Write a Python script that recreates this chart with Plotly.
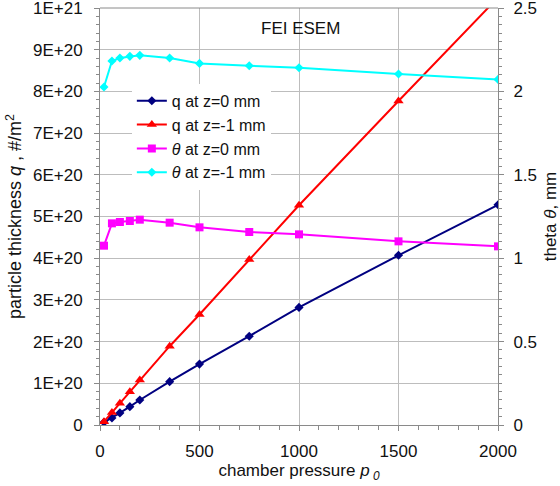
import plotly.graph_objects as go

# Chamber pressure values
pressure = [20, 60, 100, 150, 200, 350, 500, 750, 1000, 1500, 2000]

# Particle thickness q (#/m^2)
q_z0 = [0.065e20, 0.17e20, 0.29e20, 0.44e20, 0.60e20, 1.04e20, 1.46e20, 2.13e20, 2.82e20, 4.07e20, 5.28e20]
q_zm1 = [0.08e20, 0.30e20, 0.52e20, 0.80e20, 1.08e20, 1.89e20, 2.65e20, 3.97e20, 5.27e20, 7.77e20, 10.25e20]

# Theta (mm)
theta_z0 = [1.075, 1.209, 1.217, 1.223, 1.231, 1.213, 1.185, 1.157, 1.143, 1.101, 1.071]
theta_zm1 = [2.026, 2.182, 2.200, 2.210, 2.216, 2.200, 2.168, 2.154, 2.142, 2.104, 2.072]

# Left axis tick labels
q_tickvals = [0, 1e20, 2e20, 3e20, 4e20, 5e20, 6e20, 7e20, 8e20, 9e20, 1e21]
q_ticktext = ["0", "1E+20", "2E+20", "3E+20", "4E+20", "5E+20",
              "6E+20", "7E+20", "8E+20", "9E+20", "1E+21"]

FONT = "Liberation Sans, Arial, Helvetica, sans-serif"
GRID = "#bdbdbd"
AXIS = "#8a8a8a"

fig = go.Figure()

fig.add_trace(go.Scatter(
    x=pressure, y=q_z0, name="q at z=0 mm", mode="lines+markers",
    line=dict(color="#000080", width=2),
    marker=dict(symbol="diamond", size=7, color="#000080"),
))
fig.add_trace(go.Scatter(
    x=pressure, y=q_zm1, name="q at z=-1 mm", mode="lines+markers",
    line=dict(color="#ff0000", width=2),
    marker=dict(symbol="triangle-up", size=9, color="#ff0000"),
))
fig.add_trace(go.Scatter(
    x=pressure, y=theta_z0, name="<i>θ</i> at z=0 mm", mode="lines+markers",
    yaxis="y2",
    line=dict(color="#ff00ff", width=2),
    marker=dict(symbol="square", size=8, color="#ff00ff"),
))
fig.add_trace(go.Scatter(
    x=pressure, y=theta_zm1, name="<i>θ</i> at z=-1 mm", mode="lines+markers",
    yaxis="y2",
    line=dict(color="#00ffff", width=2),
    marker=dict(symbol="diamond", size=7, color="#00ffff"),
))

fig.add_annotation(
    text="FEI ESEM", xref="paper", yref="paper", x=0.505, y=0.952,
    xanchor="center", yanchor="middle",
    showarrow=False, font=dict(size=17, color="#111", family=FONT),
)

# Top border of the plotting area
fig.add_shape(type="line", xref="paper", yref="paper", x0=0, x1=1, y0=1, y1=1,
              line=dict(color=AXIS, width=1))

fig.update_layout(
    width=560, height=486,
    margin=dict(l=100, r=62, t=8, b=61, autoexpand=False),
    paper_bgcolor="white", plot_bgcolor="white",
    font=dict(family=FONT, size=17, color="#111"),
    showlegend=True,
    legend=dict(
        x=0.08, y=0.818, xanchor="left", yanchor="top",
        bgcolor="white", borderwidth=0,
        font=dict(size=16, family=FONT, color="#111"),
        tracegroupgap=0, itemwidth=30,
    ),
    xaxis=dict(
        range=[0, 2000], tickvals=[0, 500, 1000, 1500, 2000],
        showgrid=True, gridcolor=GRID, gridwidth=1,
        showline=True, linecolor=AXIS, linewidth=1,
        ticks="outside", ticklen=5, tickcolor=AXIS,
        minor=dict(ticks="outside", ticklen=4, dtick=100, tickcolor=AXIS, showgrid=False),
        zeroline=False, ticklabelstandoff=6, ticklabeloverflow="allow", automargin=False,
        title=dict(text="chamber pressure <i>p</i><sub><i> 0</i></sub>", standoff=2,
                   font=dict(size=17)),
        tickfont=dict(size=17),
    ),
    yaxis=dict(
        range=[0, 1e21], tickvals=q_tickvals, ticktext=q_ticktext,
        showgrid=True, gridcolor=GRID, gridwidth=1,
        showline=True, linecolor=AXIS, linewidth=1,
        ticks="outside", ticklen=5, tickcolor=AXIS,
        minor=dict(ticks="outside", ticklen=3, dtick=2e19, tickcolor=AXIS, showgrid=False),
        zeroline=False, ticklabelstandoff=8, ticklabeloverflow="allow", automargin=False,
        title=dict(text="particle thickness <i>q</i> , #/m<sup>2</sup>", standoff=6,
                   font=dict(size=18)),
        tickfont=dict(size=17),
    ),
    yaxis2=dict(
        range=[0, 2.5], dtick=0.5, overlaying="y", side="right",
        showgrid=False,
        showline=True, linecolor=AXIS, linewidth=1,
        ticks="outside", ticklen=5, tickcolor=AXIS,
        minor=dict(ticks="outside", ticklen=3, dtick=0.05, tickcolor=AXIS, showgrid=False),
        zeroline=False, ticklabelstandoff=6, ticklabeloverflow="allow", automargin=False,
        title=dict(text="theta <i>θ</i>, mm", standoff=9, font=dict(size=17)),
        tickfont=dict(size=17),
    ),
)

fig.write_html("out.html")
